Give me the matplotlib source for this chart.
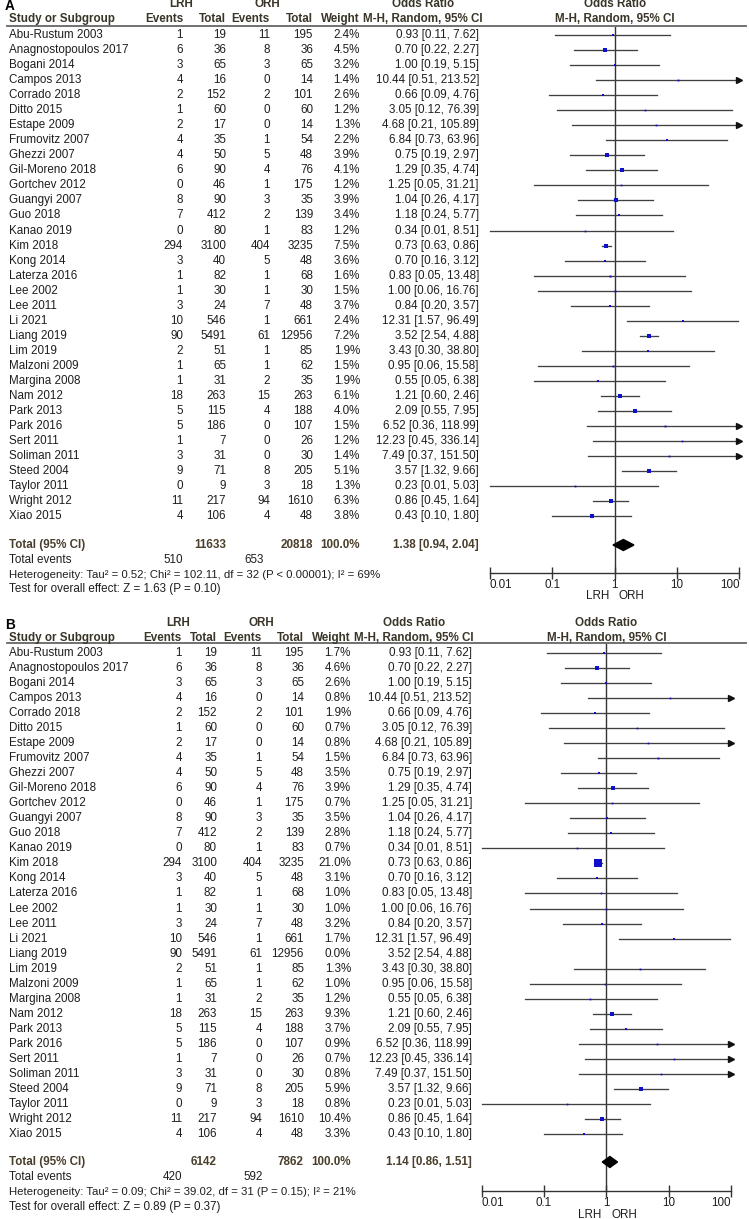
import numpy as np
import matplotlib
matplotlib.use("Agg")
import matplotlib.pyplot as plt

plt.rcParams['font.family'] = ['Liberation Sans', 'DejaVu Sans']

# ---- data ----
studies = ["Abu-Rustum 2003", "Anagnostopoulos 2017", "Bogani 2014", "Campos 2013",
           "Corrado 2018", "Ditto 2015", "Estape 2009", "Frumovitz 2007", "Ghezzi 2007",
           "Gil-Moreno 2018", "Gortchev 2012", "Guangyi 2007", "Guo 2018", "Kanao 2019",
           "Kim 2018", "Kong 2014", "Laterza 2016", "Lee 2002", "Lee 2011", "Li 2021",
           "Liang 2019", "Lim 2019", "Malzoni 2009", "Margina 2008", "Nam 2012",
           "Park 2013", "Park 2016", "Sert 2011", "Soliman 2011", "Steed 2004",
           "Taylor 2011", "Wright 2012", "Xiao 2015"]
lrh_events = [1, 6, 3, 4, 2, 1, 2, 4, 4, 6, 0, 8, 7, 0, 294, 3, 1, 1, 3, 10, 90, 2, 1, 1,
              18, 5, 5, 1, 3, 9, 0, 11, 4]
lrh_total = [19, 36, 65, 16, 152, 60, 17, 35, 50, 90, 46, 90, 412, 80, 3100, 40, 82, 30, 24,
             546, 5491, 51, 65, 31, 263, 115, 186, 7, 31, 71, 9, 217, 106]
orh_events = [11, 8, 3, 0, 2, 0, 0, 1, 5, 4, 1, 3, 2, 1, 404, 5, 1, 1, 7, 1, 61, 1, 1, 2,
              15, 4, 0, 0, 0, 8, 3, 94, 4]
orh_total = [195, 36, 65, 14, 101, 60, 14, 54, 48, 76, 175, 35, 139, 83, 3235, 48, 68, 30, 48,
             661, 12956, 85, 62, 35, 263, 188, 107, 26, 30, 205, 18, 1610, 48]
weight_a = [2.4, 4.5, 3.2, 1.4, 2.6, 1.2, 1.3, 2.2, 3.9, 4.1, 1.2, 3.9, 3.4, 1.2, 7.5, 3.6,
            1.6, 1.5, 3.7, 2.4, 7.2, 1.9, 1.5, 1.9, 6.1, 4.0, 1.5, 1.2, 1.4, 5.1, 1.3, 6.3, 3.8]
weight_b = [1.7, 4.6, 2.6, 0.8, 1.9, 0.7, 0.8, 1.5, 3.5, 3.9, 0.7, 3.5, 2.8, 0.7, 21.0, 3.1,
            1.0, 1.0, 3.2, 1.7, 0.0, 1.3, 1.0, 1.2, 9.3, 3.7, 0.9, 0.7, 0.8, 5.9, 0.8, 10.4, 3.3]
or_est = [0.93, 0.70, 1.00, 10.44, 0.66, 3.05, 4.68, 6.84, 0.75, 1.29, 1.25, 1.04, 1.18, 0.34,
          0.73, 0.70, 0.83, 1.00, 0.84, 12.31, 3.52, 3.43, 0.95, 0.55, 1.21, 2.09, 6.52,
          12.23, 7.49, 3.57, 0.23, 0.86, 0.43]
or_lo = [0.11, 0.22, 0.19, 0.51, 0.09, 0.12, 0.21, 0.73, 0.19, 0.35, 0.05, 0.26, 0.24, 0.01,
         0.63, 0.16, 0.05, 0.06, 0.20, 1.57, 2.54, 0.30, 0.06, 0.05, 0.60, 0.55, 0.36, 0.45,
         0.37, 1.32, 0.01, 0.45, 0.10]
or_hi = [7.62, 2.27, 5.15, 213.52, 4.76, 76.39, 105.89, 63.96, 2.97, 4.74, 31.21, 4.17, 5.77,
         8.51, 0.86, 3.12, 13.48, 16.76, 3.57, 96.49, 4.88, 38.80, 15.58, 6.38, 2.46, 7.95,
         118.99, 336.14, 151.50, 9.66, 5.03, 1.64, 1.80]

# pooled results per panel
panel_labels = ["A", "B"]
pooled_est = [1.38, 1.14]
pooled_lo = [0.94, 0.86]
pooled_hi = [2.04, 1.51]
pooled_lrh_total = [11633, 6142]
pooled_orh_total = [20818, 7862]
pooled_lrh_events = [510, 420]
pooled_orh_events = [653, 592]
heterogeneity = ["Heterogeneity: Tau\u00b2 = 0.52; Chi\u00b2 = 102.11, df = 32 (P < 0.00001); I\u00b2 = 69%",
                 "Heterogeneity: Tau\u00b2 = 0.09; Chi\u00b2 = 39.02, df = 31 (P = 0.15); I\u00b2 = 21%"]
overall = ["Test for overall effect: Z = 1.63 (P = 0.10)",
           "Test for overall effect: Z = 0.89 (P = 0.37)"]
tick_vals = [0.01, 0.1, 1, 10, 100]
tick_labels = ["0.01", "0.1", "1", "10", "100"]

# ---- layout (pixels) ----
W, H = 749, 1219
FS = 8.4
TXT = '#1e1e1e'
HDR = '#3a3528'
TOT = '#4a3e2c'
LINE = '#404040'

layout = [
    dict(top=4, hdr=19, rule=26, row0=35, step=15.04, total=545, tev=560, het=575, test=589,
         axis=572.7, ax0=490, ax1=739.3, c_ev1=183, c_tot1=226, c_ev2=270, c_tot2=313,
         c_w=360, c_or=479, c_hdr=423, c_lrh=181, c_orh=267, t_ev2=264, lrh_gap=5, orh_gap=4,
         weights=weight_a, drop=None),
    dict(top=623, hdr=638, rule=643, row0=653, step=15.03, total=1162, tev=1177, het=1192,
         test=1207, axis=1191, ax0=481.7, ax1=731, c_ev1=182, c_tot1=217, c_ev2=262,
         c_tot2=304, c_w=351, c_or=472, c_hdr=414, c_lrh=178, c_orh=261, t_ev2=263,
         lrh_gap=5, orh_gap=5, weights=weight_b, drop="Liang 2019"),
]

fig = plt.figure(figsize=(W / 100, H / 100), dpi=100)
bg = fig.add_axes([0, 0, 1, 1])
bg.set_xlim(0, W)
bg.set_ylim(H, 0)
bg.axis('off')


def txt(x, y, s, ha='left', bold=False, color=TXT, size=FS):
    bg.text(x, y, s, ha=ha, va='center', fontsize=size, color=color,
            fontweight='bold' if bold else 'normal')


for p, L in enumerate(layout):
    mid = (L['ax0'] + L['ax1']) / 2

    # headings
    txt(5, L['top'] + 2, panel_labels[p], bold=True, color='#000000', size=9.8)
    txt(L['c_lrh'], L['top'], "LRH", ha='center', bold=True, color=HDR)
    txt(L['c_orh'], L['top'], "ORH", ha='center', bold=True, color=HDR)
    txt(L['c_hdr'], L['top'], "Odds Ratio", ha='center', bold=True, color=HDR)
    txt(mid, L['top'], "Odds Ratio", ha='center', bold=True, color=HDR)
    txt(9, L['hdr'], "Study or Subgroup", bold=True, color=HDR)
    txt(L['c_ev1'], L['hdr'], "Events", ha='right', bold=True, color=HDR)
    txt(L['c_tot1'], L['hdr'], "Total", ha='right', bold=True, color=HDR)
    txt(L['c_ev2'], L['hdr'], "Events", ha='right', bold=True, color=HDR)
    txt(L['c_tot2'], L['hdr'], "Total", ha='right', bold=True, color=HDR)
    txt(L['c_w'], L['hdr'], "Weight", ha='right', bold=True, color=HDR)
    txt(L['c_hdr'], L['hdr'], "M-H, Random, 95% CI", ha='center', bold=True, color=HDR)
    txt(mid, L['hdr'], "M-H, Random, 95% CI", ha='center', bold=True, color=HDR)
    bg.plot([7, 746], [L['rule'], L['rule']], color='#666666', lw=1.3)

    # forest axes, y in pixel units
    fa = fig.add_axes([L['ax0'] / W, 1 - L['axis'] / H, (L['ax1'] - L['ax0']) / W,
                       (L['axis'] - L['rule'] - 1) / H])
    fa.set_xscale('log')
    fa.set_xlim(0.01, 100)
    fa.set_ylim(L['axis'], L['rule'] + 1)
    fa.patch.set_alpha(0)
    for s in ['top', 'left', 'right']:
        fa.spines[s].set_visible(False)
    fa.spines['bottom'].set_color('#333333')
    fa.spines['bottom'].set_linewidth(1.0)
    fa.set_yticks([])
    fa.set_xticks(tick_vals)
    fa.set_xticklabels(tick_labels)
    fa.xaxis.set_minor_locator(matplotlib.ticker.NullLocator())
    fa.tick_params(axis='x', which='major', direction='inout', length=8, width=1.0,
                   color='#333333', labelsize=FS, labelcolor=TXT, pad=0.5)
    labels = fa.get_xticklabels()
    labels[0].set_horizontalalignment('left')
    labels[-1].set_horizontalalignment('right')
    fa.axvline(1, color='#333333', lw=1.0)

    wts = L['weights']
    for i, name in enumerate(studies):
        y = L['row0'] + i * L['step']
        txt(9, y, name)
        txt(L['c_ev1'], y, str(lrh_events[i]), ha='right')
        txt(L['c_tot1'], y, str(lrh_total[i]), ha='right')
        txt(L['c_ev2'], y, str(orh_events[i]), ha='right')
        txt(L['c_tot2'], y, str(orh_total[i]), ha='right')
        txt(L['c_w'], y, "%.1f%%" % wts[i], ha='right')
        txt(L['c_or'], y, "%.2f [%.2f, %.2f]" % (or_est[i], or_lo[i], or_hi[i]), ha='right')
        if name == L['drop']:
            continue
        hi = min(or_hi[i], 100)
        fa.plot([or_lo[i], hi], [y, y], color=LINE, lw=0.95, clip_on=False, zorder=2)
        if or_hi[i] > 100:
            fa.plot([100], [y], marker='>', ms=4.5, color='#111111', clip_on=False, zorder=3)
        side = max(1.55 * np.sqrt(wts[i]), 1.7) * 0.72
        fa.plot([or_est[i]], [y], marker='s', ms=side, color='#1010c8', mew=0,
                clip_on=False, zorder=4)

    # pooled row
    yt = L['total']
    txt(9, yt, "Total (95% CI)", bold=True, color=TOT)
    txt(L['c_tot1'], yt, str(pooled_lrh_total[p]), ha='right', bold=True, color=TOT)
    txt(L['c_tot2'], yt, str(pooled_orh_total[p]), ha='right', bold=True, color=TOT)
    txt(L['c_w'], yt, "100.0%", ha='right', bold=True, color=TOT)
    txt(L['c_or'], yt, "%.2f [%.2f, %.2f]" % (pooled_est[p], pooled_lo[p], pooled_hi[p]),
        ha='right', bold=True, color=TOT)
    fa.fill([pooled_lo[p], pooled_est[p], pooled_hi[p], pooled_est[p]],
            [yt, yt - 5.5, yt, yt + 5.5], color='black', zorder=5, clip_on=False)

    txt(9, L['tev'], "Total events")
    txt(L['c_ev1'], L['tev'], str(pooled_lrh_events[p]), ha='right')
    txt(L['t_ev2'], L['tev'], str(pooled_orh_events[p]), ha='right')
    txt(9, L['het'], heterogeneity[p], size=8.2)
    txt(9, L['test'], overall[p])

    txt(mid - L['lrh_gap'], L['axis'] + 23.5, "LRH", ha='right')
    txt(mid + L['orh_gap'], L['axis'] + 23.5, "ORH", ha='left')

fig.savefig("out.png", dpi=100)
